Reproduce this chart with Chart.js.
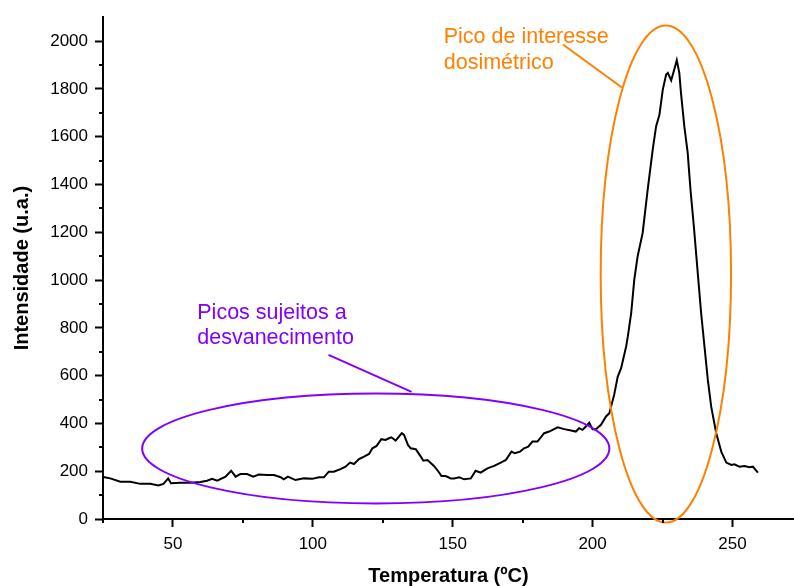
<!DOCTYPE html>
<html>
<head>
<meta charset="utf-8">
<script src="https://cdn.jsdelivr.net/npm/chart.js@4"></script>
<style>
html,body{margin:0;padding:0;background:#fff;}
#wrap{width:794px;height:586px;}
</style>
</head>
<body>
<div id="wrap"><canvas id="c" width="794" height="586"></canvas></div>
<script>
// ---- Data ----
const temperature = [25.1,27.6,31.2,34.8,38.3,41.9,44.8,46.6,48.3,49.3,52.7,56.2,59.8,62.2,64.0,65.8,68.8,70.8,72.4,74.1,76.5,78.7,80.7,83.7,86.1,88.5,89.6,91.1,93.8,96.8,99.8,102.2,104.0,105.7,107.5,109.9,111.7,113.3,114.7,116.5,118.3,120.1,121.3,122.8,124.5,126.0,127.2,128.1,129.6,131.8,132.6,134.0,135.0,136.8,138.6,139.5,141.0,143.3,144.5,146.0,147.5,149.3,150.5,152.3,154.1,156.5,158.2,160.0,162.4,164.8,167.2,169.0,171.0,172.2,174.1,175.5,177.0,178.5,180.3,182.7,184.5,187.5,189.9,192.3,194.0,195.2,196.4,197.6,198.8,200.0,201.2,203.0,204.8,206.0,206.6,207.7,209.0,210.2,212.0,212.6,213.8,214.9,216.1,217.9,219.7,221.5,222.7,223.9,225.1,226.3,226.9,228.1,229.2,230.1,231.0,231.6,232.8,234.0,235.0,236.2,237.2,237.8,238.8,240.0,241.2,242.4,244.2,246.0,247.8,249.6,250.7,252.5,254.3,256.1,257.3,259.1];
const intensity = [176,170,156,156,147,147,140,147,170,150,152,152,155,160,168,160,177,202,177,188,188,177,186,184,184,175,166,177,163,170,168,175,175,198,198,209,219,236,230,251,261,272,296,306,334,331,338,342,328,359,352,310,296,292,261,244,247,222,205,180,180,170,170,175,166,170,202,194,212,222,236,247,282,275,282,296,303,324,324,359,366,384,376,370,366,380,373,387,403,376,376,394,429,443,470,519,596,631,722,764,862,1001,1099,1197,1378,1546,1643,1692,1797,1860,1867,1836,1881,1920,1867,1783,1643,1532,1378,1225,1085,1001,862,722,582,470,359,282,236,226,229,219,222,217,219,194];

const xMajorTicks = [50,100,150,200,250];
const xMinorTicks = [25,75,125,175,225];
const yMajorTicks = [0,200,400,600,800,1000,1200,1400,1600,1800,2000];
const yMinorTicks = [100,300,500,700,900,1100,1300,1500,1700,1900];

const xTitle = 'Temperatura (ºC)';
const yTitle = 'Intensidade (u.a.)';

// annotation content (positions expressed in data units)
const annotations = {
  ellipses: [
    {cx:122.5, cy:295, rx:83.5, ry:230, color:'#8000ff'},
    {cx:226.2, cy:1025, rx:23.3, ry:1040, color:'#ff8000'}
  ],
  lines: [
    {x1:105.6, y1:687, x2:135.3, y2:532, color:'#8000ff'},
    {x1:189.4, y1:1986, x2:210.5, y2:1806, color:'#ff8000'}
  ],
  texts: [
    {x:146.8, y:2015, text:'Pico de interesse', color:'#ff8000'},
    {x:146.8, y:1910, text:'dosimétrico', color:'#ff8000'},
    {x:58.7, y:863, text:'Picos sujeitos a', color:'#8000ff'},
    {x:58.7, y:758, text:'desvanecimento', color:'#8000ff'}
  ]
};

const points = temperature.map((t,i)=>({x:t, y:intensity[i]}));

const minorTickPlugin = {
  id:'minorTicks',
  afterDraw(chart){
    const ctx = chart.ctx;
    const xs = chart.scales.x, ys = chart.scales.y;
    ctx.save();
    ctx.strokeStyle = '#000';
    ctx.lineWidth = 2;
    ctx.beginPath();
    xMinorTicks.forEach(v=>{
      const p = Math.round(xs.getPixelForValue(v));
      ctx.moveTo(p, xs.top); ctx.lineTo(p, xs.top+4);
    });
    yMinorTicks.forEach(v=>{
      const p = Math.round(ys.getPixelForValue(v));
      ctx.moveTo(ys.right, p); ctx.lineTo(ys.right-4, p);
    });
    ctx.stroke();
    ctx.restore();
  }
};

const annotationPlugin = {
  id:'annots',
  afterDatasetsDraw(chart){
    const ctx = chart.ctx;
    const xs = chart.scales.x, ys = chart.scales.y;
    const X = v=>xs.getPixelForValue(v), Y = v=>ys.getPixelForValue(v);
    ctx.save();
    ctx.lineWidth = 2;
    annotations.ellipses.forEach(e=>{
      const cx = X(e.cx), cy = Y(e.cy);
      const rx = Math.abs(X(e.cx+e.rx)-cx), ry = Math.abs(Y(e.cy+e.ry)-cy);
      ctx.strokeStyle = e.color;
      ctx.beginPath();
      ctx.ellipse(cx, cy, rx, ry, 0, 0, Math.PI*2);
      ctx.stroke();
    });
    annotations.lines.forEach(l=>{
      ctx.strokeStyle = l.color;
      ctx.beginPath();
      ctx.moveTo(X(l.x1), Y(l.y1));
      ctx.lineTo(X(l.x2), Y(l.y2));
      ctx.stroke();
    });
    ctx.font = '21.5px "Liberation Sans", Arial, sans-serif';
    ctx.textBaseline = 'middle';
    ctx.textAlign = 'left';
    annotations.texts.forEach(t=>{
      ctx.fillStyle = t.color;
      ctx.fillText(t.text, X(t.x), Y(t.y));
    });
    ctx.restore();
  }
};

new Chart(document.getElementById('c'), {
  type:'line',
  data:{
    datasets:[{
      data:points,
      borderColor:'#000',
      borderWidth:2,
      pointRadius:0,
      tension:0,
      fill:false
    }]
  },
  options:{
    responsive:false,
    animation:false,
    events:[],
    layout:{padding:{top:16,right:0,left:0,bottom:0}},
    plugins:{legend:{display:false},tooltip:{enabled:false}},
    scales:{
      x:{
        type:'linear',
        min:25, max:272,
        afterBuildTicks:s=>{ s.ticks = xMajorTicks.map(v=>({value:v})); },
        afterFit:s=>{ s.height = 67; },
        grid:{drawOnChartArea:false, drawTicks:true, tickLength:8, tickColor:'#000', tickWidth:2},
        border:{display:true, color:'#000', width:2},
        ticks:{color:'#000', padding:7, maxRotation:0, callback:v=>String(v), font:{family:'"Liberation Sans", Arial, sans-serif', size:17}},
        title:{display:true, text:xTitle, color:'#000', padding:{top:0,bottom:0}, font:{family:'"Liberation Sans", Arial, sans-serif', size:20, weight:'bold', lineHeight:1}}
      },
      y:{
        type:'linear',
        min:0, max:2100,
        afterBuildTicks:s=>{ s.ticks = yMajorTicks.map(v=>({value:v})); },
        afterFit:s=>{ s.width = 103; },
        grid:{drawOnChartArea:false, drawTicks:true, tickLength:8, tickColor:'#000', tickWidth:2},
        border:{display:true, color:'#000', width:2},
        ticks:{color:'#000', padding:7, callback:v=>String(v), font:{family:'"Liberation Sans", Arial, sans-serif', size:17}},
        title:{display:true, text:yTitle, color:'#000', padding:{top:12,bottom:0}, font:{family:'"Liberation Sans", Arial, sans-serif', size:20, weight:'bold', lineHeight:1}}
      }
    }
  },
  plugins:[minorTickPlugin, annotationPlugin]
});
</script>
</body>
</html>
